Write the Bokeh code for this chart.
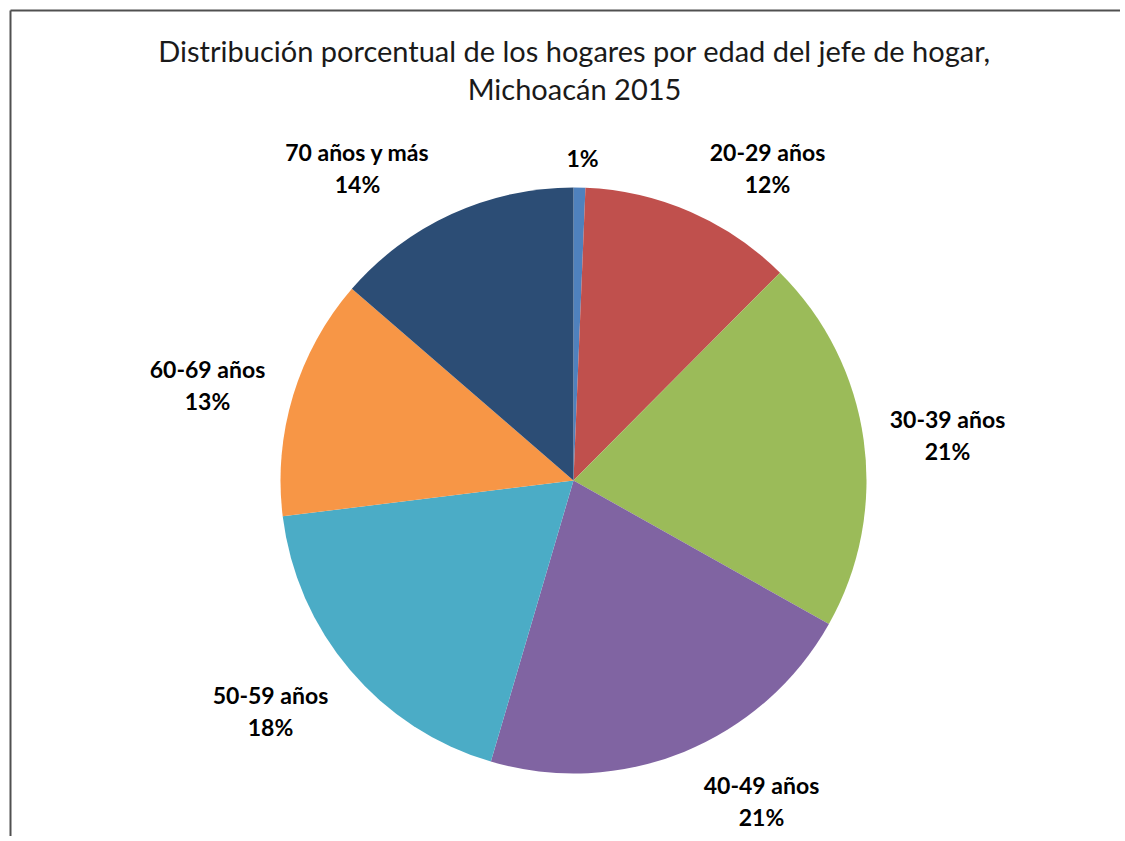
import numpy as np
from bokeh.plotting import figure
from bokeh.models import Range1d, ColumnDataSource
from bokeh.core.properties import value
from bokeh.embed import file_html
from bokeh.resources import INLINE

# ---- data ----
categories = ["Menos de 20 años", "20-29 años", "30-39 años", "40-49 años",
              "50-59 años", "60-69 años", "70 años y más"]
percentages = [0.65, 11.8, 20.7, 21.4, 18.5, 13.3, 13.65]
show_name = [False, True, True, True, True, True, True]
colors = ["#4F81BD", "#C0504D", "#9BBB59", "#8064A2", "#4BACC6", "#F79646", "#2C4D75"]
title_lines = ["Distribución porcentual de los hogares por edad del jefe de hogar,",
               "Michoacán 2015"]

W, H = 1120, 836
TOP = 841  # data y = TOP - screen y

p = figure(width=W, height=H, output_backend="svg", toolbar_location=None,
           x_range=Range1d(0, W), y_range=Range1d(TOP - H, TOP),
           min_border=0)
p.axis.visible = False
p.grid.visible = False
p.outline_line_color = None
p.background_fill_color = "white"
p.border_fill_color = "white"

# frame lines (top and left)
p.segment(x0=[10, 10], y0=[TOP - 10, TOP - 10], x1=[W, 10], y1=[TOP - 10, 0],
          line_color="#505050", line_width=2)

# pie
cx, cy, r = 573, TOP - 480, 293
vals = np.array(percentages) / sum(percentages)
cum = np.concatenate([[0], np.cumsum(vals)])
start = np.pi / 2 - 2 * np.pi * cum[:-1]
end = np.pi / 2 - 2 * np.pi * cum[1:]
src = ColumnDataSource(dict(start=start, end=end, color=colors))
p.wedge(x=cx, y=cy, radius=r, start_angle="start", end_angle="end",
        direction="clock", fill_color="color", line_color=None, source=src)

# labels (label anchor positions in screen coords)
label_pos = [(582, 157), (767, 151), (947, 418), (761, 784), (270, 694), (207, 368), (357, 151)]
name_x, name_y, pct_x, pct_y, pct_txt, name_txt = [], [], [], [], [], []
for cat, v, show, (lx, ly) in zip(categories, percentages, show_name, label_pos):
    pct = f"{round(v):d}%"
    if show:
        name_x.append(lx); name_y.append(TOP - ly); name_txt.append(cat)
        pct_x.append(lx); pct_y.append(TOP - ly - 32); pct_txt.append(pct)
    else:
        pct_x.append(lx); pct_y.append(TOP - ly); pct_txt.append(pct)

p.text(x=name_x, y=name_y, text=name_txt, text_align="center", text_baseline="middle",
       text_font=value("Lato"), text_font_style="bold", text_font_size="23px", text_color="#000000")
p.text(x=pct_x, y=pct_y, text=pct_txt, text_align="center", text_baseline="middle",
       text_font=value("Lato"), text_font_style="bold", text_font_size="23px", text_color="#000000")

# title
p.text(x=[574, 574], y=[TOP - 50, TOP - 88], text=title_lines, text_align="center",
       text_baseline="middle", text_font=value("Lato"), text_font_size="29px",
       text_color="#1a1a1a")

open("out.html", "w").write(file_html(p, INLINE))
